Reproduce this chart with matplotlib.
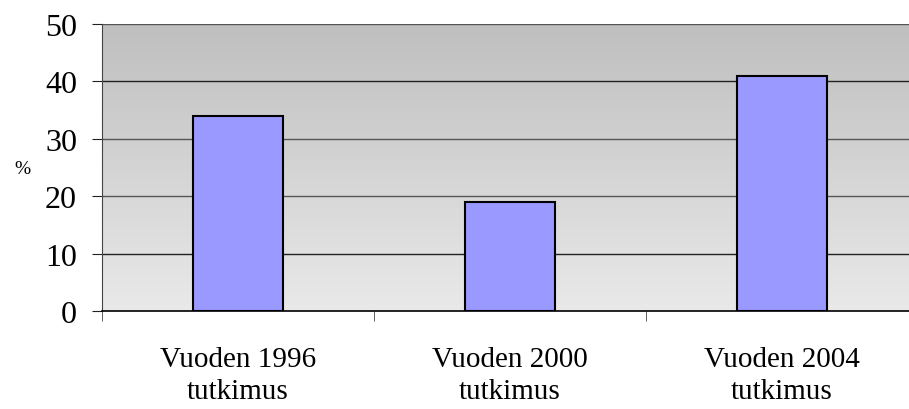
import numpy as np
import matplotlib
matplotlib.use('Agg')
import matplotlib.pyplot as plt

# Data
categories = ['Vuoden 1996\ntutkimus', 'Vuoden 2000\ntutkimus', 'Vuoden 2004\ntutkimus']
values = [34, 19, 41]
yticks = [0, 10, 20, 30, 40, 50]

plt.rcParams['font.family'] = ['Liberation Serif', 'DejaVu Serif']

fig = plt.figure(figsize=(9.09, 4.10), dpi=100)
# plot area runs past the right edge of the image like in the original
ax = fig.add_axes([102/909, 1 - 312/410, 816/909, 287/410])

# gradient background, darker on top
grad = np.linspace(0, 1, 256).reshape(-1, 1)
cmap = matplotlib.colors.LinearSegmentedColormap.from_list('bg', ['#e9e9e9', '#bfbfbf'])
ax.imshow(grad, cmap=cmap, aspect='auto', extent=[-0.5, 2.5, 0, 50], zorder=0, origin='lower')

x = np.arange(len(categories))
ax.bar(x, values, width=0.33, color='#9999ff', edgecolor='black', linewidth=1.5, zorder=3)

ax.set_xlim(-0.5, 2.5)
ax.set_ylim(0, 50)
ax.set_yticks(yticks)
for y in yticks[1:]:
    ax.axhline(y, color='#222222' if y in (10, 40) else '#555555', linewidth=1, zorder=2)

ax.set_xticks(x)
ax.set_xticklabels(categories, fontsize=21, linespacing=1.3)
ax.tick_params(axis='x', length=0, pad=25)
ax.set_xticks([-0.5, 0.5, 1.5], minor=True)
ax.tick_params(axis='x', which='minor', length=7, color='#444444', direction='out')
ax.tick_params(axis='y', labelsize=23, length=7, color='#222222', pad=11)

for s in ['top', 'right']:
    ax.spines[s].set_visible(False)
ax.spines['left'].set_color('#444444')
ax.spines['bottom'].set_color('black')
ax.spines['bottom'].set_linewidth(1.2)

fig.text(22/909, 1 - 170/410, '%', fontsize=14, ha='center', va='center')

plt.savefig('out.png', dpi=100)
plt.close()
